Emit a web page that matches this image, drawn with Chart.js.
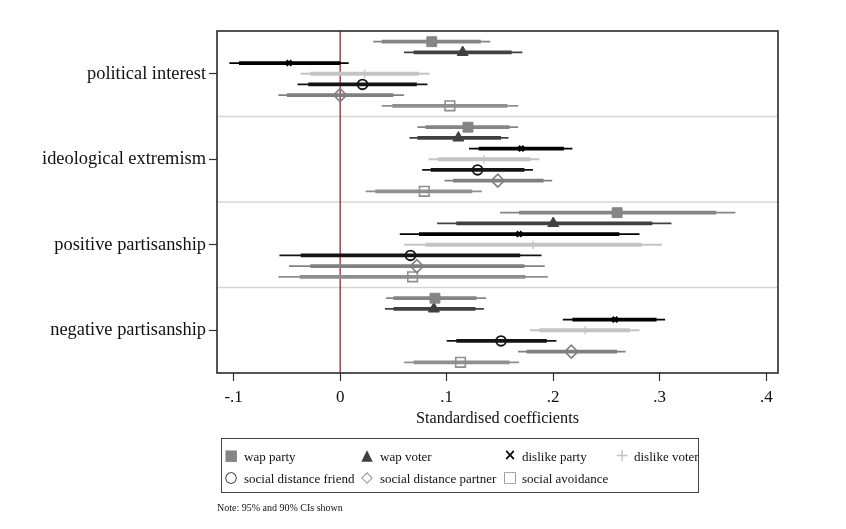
<!DOCTYPE html>
<html>
<head>
<meta charset="utf-8">
<script src="https://cdn.jsdelivr.net/npm/chart.js@4/dist/chart.umd.min.js"></script>
<style>
    body { margin: 0; background: #fff; font-family: 'Liberation Serif', serif; }
    #wrap { position: relative; width: 846px; height: 529px; }
    #coefChart { position: absolute; left: 0; top: 0; }
    #legendBox {
        position: absolute; left: 221px; top: 438px; width: 476px; height: 53px;
        border: 1.5px solid #444;
    }
    .item { position: absolute; font-size: 13px; color: #111; white-space: nowrap; line-height: 16px; }
    .mk { position: absolute; font-family: 'DejaVu Sans', sans-serif; line-height: 16px; text-align: center; width: 14px; }
    #note { position: absolute; left: 217px; top: 502px; font-size: 10px; color: #111; }
</style>
</head>
<body>
<div id="wrap">
    <canvas id="coefChart" width="846" height="529"></canvas>
    <div id="legendBox"></div>
    <div id="note">Note: 95% and 90% CIs shown</div>
</div>
<script>
const groups = ['political interest', 'ideological extremism', 'positive partisanship', 'negative partisanship'];
const seriesNames = ['wap party', 'wap voter', 'dislike party', 'dislike voter',
    'social distance friend', 'social distance partner', 'social avoidance'];
const xTicks = [-0.1, 0, 0.1, 0.2, 0.3, 0.4];

// rows = series, cols = groups
const coef = [
    [0.086, 0.120, 0.260, 0.089],   // wap party
    [0.115, 0.111, 0.200, 0.088],   // wap voter
    [-0.048, 0.170, 0.168, 0.258],  // dislike party
    [0.023, 0.135, 0.181, 0.230],   // dislike voter
    [0.021, 0.129, 0.066, 0.151],   // friend
    [0.000, 0.148, 0.072, 0.217],   // partner
    [0.103, 0.079, 0.068, 0.113],   // avoidance
];
const lo95 = [
    [0.031, 0.0725, 0.150, 0.043],
    [0.060, 0.065, 0.091, 0.042],
    [-0.104, 0.121, 0.056, 0.209],
    [-0.037, 0.083, 0.060, 0.178],
    [-0.040, 0.077, -0.057, 0.100],
    [-0.058, 0.098, -0.048, 0.167],
    [0.039, 0.024, -0.058, 0.060],
];
const hi95 = [
    [0.141, 0.167, 0.371, 0.137],
    [0.171, 0.158, 0.311, 0.135],
    [0.008, 0.218, 0.281, 0.305],
    [0.084, 0.187, 0.302, 0.281],
    [0.082, 0.181, 0.189, 0.203],
    [0.060, 0.199, 0.192, 0.268],
    [0.167, 0.133, 0.195, 0.168],
];
const lo90 = [
    [0.039, 0.080, 0.168, 0.050],
    [0.069, 0.0725, 0.109, 0.050],
    [-0.095, 0.130, 0.074, 0.218],
    [-0.028, 0.092, 0.080, 0.187],
    [-0.030, 0.085, -0.037, 0.109],
    [-0.050, 0.106, -0.028, 0.175],
    [0.049, 0.033, -0.038, 0.069],
];
const hi90 = [
    [0.132, 0.159, 0.353, 0.128],
    [0.161, 0.151, 0.293, 0.127],
    [0.000, 0.210, 0.262, 0.297],
    [0.074, 0.179, 0.283, 0.272],
    [0.072, 0.173, 0.169, 0.194],
    [0.050, 0.191, 0.173, 0.260],
    [0.157, 0.124, 0.174, 0.159],
];

const colors = ['#858585', '#404040', '#000000', '#c4c4c4', '#141414', '#808080', '#8f8f8f'];
const styles = [
    { pointStyle: 'rect', radius: 7, fill: true, bw: 1 },
    { pointStyle: 'triangle', radius: 6.3, fill: true, bw: 1 },
    { pointStyle: 'crossRot', radius: 3.6, fill: false, bw: 2.6 },
    { pointStyle: 'cross', radius: 4.2, fill: false, bw: 1.3 },
    { pointStyle: 'circle', radius: 4.8, fill: false, bw: 1.9 },
    { pointStyle: 'rectRot', radius: 6.5, fill: false, bw: 1.6 },
    { pointStyle: 'rect', radius: 6.8, fill: false, bw: 1.6 },
];
const legendGlyphs = ['\u25A0', '\u25B2', '\u00D7', '+', '\u25CB', '\u25C7', '\u25A1'];

const rowY = (g, s) => g * 8 + s + 1;

const datasets = [];
seriesNames.forEach((name, s) => {
    const st = styles[s];
    datasets.push({
        type: 'scatter',
        label: name,
        data: groups.map((_, g) => ({ x: coef[s][g], y: rowY(g, s) })),
        pointStyle: st.pointStyle,
        pointRadius: st.radius,
        pointBorderWidth: st.bw,
        borderColor: colors[s],
        backgroundColor: st.fill ? colors[s] : 'rgba(0,0,0,0)',
    });
    groups.forEach((_, g) => {
        datasets.push({
            type: 'line',
            data: [{ x: lo90[s][g], y: rowY(g, s) }, { x: hi90[s][g], y: rowY(g, s) }],
            borderColor: colors[s], borderWidth: 3.8, pointRadius: 0,
        });
    });
    groups.forEach((_, g) => {
        datasets.push({
            type: 'line',
            data: [{ x: lo95[s][g], y: rowY(g, s) }, { x: hi95[s][g], y: rowY(g, s) }],
            borderColor: colors[s], borderWidth: 1.8, pointRadius: 0,
        });
    });
});

const decor = {
    id: 'decor',
    beforeDatasetsDraw(chart) {
        const { ctx, chartArea: a, scales: { x, y } } = chart;
        ctx.save();
        ctx.strokeStyle = '#d6d6d6';
        ctx.lineWidth = 1.5;
        [8, 16, 24].forEach(v => {
            const py = y.getPixelForValue(v);
            ctx.beginPath(); ctx.moveTo(a.left, py); ctx.lineTo(a.right, py); ctx.stroke();
        });
        const px = x.getPixelForValue(0);
        ctx.strokeStyle = '#7a1c1c';
        ctx.lineWidth = 1.2;
        ctx.beginPath(); ctx.moveTo(px, a.top); ctx.lineTo(px, a.bottom); ctx.stroke();
        ctx.restore();
    },
    afterDatasetsDraw(chart) {
        const { ctx, chartArea: a } = chart;
        ctx.save();
        ctx.strokeStyle = '#2a2a2a';
        ctx.lineWidth = 1.6;
        ctx.strokeRect(a.left, a.top, a.right - a.left, a.bottom - a.top);
        ctx.restore();
    }
};

Chart.defaults.font.family = "'Liberation Serif', serif";
Chart.defaults.color = '#111';

new Chart(document.getElementById('coefChart'), {
    type: 'scatter',
    data: { datasets },
    options: {
        responsive: false,
        animation: false,
        layout: { padding: { left: 0, right: 68, top: 31, bottom: 96 } },
        plugins: { legend: { display: false }, tooltip: { enabled: false } },
        scales: {
            x: {
                type: 'linear',
                min: -0.1156,
                max: 0.411,
                afterBuildTicks: scale => { scale.ticks = xTicks.map(v => ({ value: v })); },
                afterFit: scale => { scale.height = 60; },
                ticks: {
                    padding: 6,
                    font: { size: 17 },
                    color: '#111',
                    callback: v => v === 0 ? '0' : v.toFixed(1).replace('0.', '.'),
                },
                grid: { drawOnChartArea: false, drawTicks: true, tickLength: 8, tickColor: '#333', tickWidth: 1.2 },
                border: { display: false },
                title: {
                    display: true,
                    text: 'Standardised coefficients',
                    font: { size: 16.2 },
                    color: '#111',
                    padding: { top: 0, bottom: 5 },
                },
            },
            y: {
                type: 'linear',
                reverse: true,
                min: 0,
                max: 32,
                afterBuildTicks: scale => { scale.ticks = groups.map((_, g) => ({ value: g * 8 + 4 })); },
                afterFit: scale => { scale.width = 217; },
                ticks: {
                    padding: 3,
                    font: { size: 18.4 },
                    color: '#111',
                    callback: v => groups[(v - 4) / 8],
                },
                grid: { drawOnChartArea: false, drawTicks: true, tickLength: 8, tickColor: '#333', tickWidth: 1.2 },
                border: { display: false },
            },
        },
    },
    plugins: [decor],
});

// legend
const box = document.getElementById('legendBox');
const colX = [9, 145, 288, 400];
const textX = [22, 158, 300, 412];
const rowTop = [10, 32];
const glyphSize = [15, 15, 15, 17, 15, 15, 15];
seriesNames.forEach((name, s) => {
    const c = s % 4, r = Math.floor(s / 4);
    const mk = document.createElement('div');
    mk.className = 'mk';
    mk.textContent = legendGlyphs[s];
    mk.style.left = (colX[c] - 7) + 'px';
    mk.style.top = (rowTop[r] - 2) + 'px';
    mk.style.color = colors[s];
    mk.style.fontSize = glyphSize[s] + 'px';
    if (s === 2 || s === 4) mk.style.fontWeight = 'bold';
    box.appendChild(mk);
    const t = document.createElement('div');
    t.className = 'item';
    t.textContent = name;
    t.style.left = textX[c] + 'px';
    t.style.top = rowTop[r] + 'px';
    box.appendChild(t);
});
</script>
</body>
</html>
